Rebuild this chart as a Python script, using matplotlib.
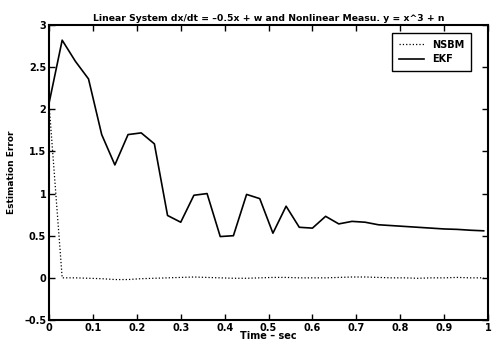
import numpy as np
import matplotlib
matplotlib.use("Agg")
import matplotlib.pyplot as plt

# time grid (sec)
t = [0.00, 0.03, 0.06, 0.09, 0.12, 0.15, 0.18, 0.21, 0.24, 0.27, 0.30,
     0.33, 0.36, 0.39, 0.42, 0.45, 0.48, 0.51, 0.54, 0.57, 0.60, 0.63,
     0.66, 0.69, 0.72, 0.75, 0.78, 0.81, 0.84, 0.87, 0.90, 0.93, 0.96, 0.99]

# estimation error, EKF
ekf = [2.07, 2.82, 2.57, 2.36, 1.70, 1.34, 1.70, 1.72, 1.59, 0.74, 0.66,
       0.98, 1.00, 0.49, 0.50, 0.99, 0.94, 0.53, 0.85, 0.60, 0.59, 0.73,
       0.64, 0.67, 0.66, 0.63, 0.62, 0.61, 0.60, 0.59, 0.58, 0.575, 0.565, 0.558]

# estimation error, NSBM
nsbm = [2.07, 0.00, 0.00, -0.005, -0.01, -0.02, -0.02, -0.01, -0.005, 0.0, 0.005,
        0.01, 0.005, 0.0, -0.005, -0.005, 0.0, 0.005, 0.005, 0.0, 0.0, 0.0,
        0.005, 0.01, 0.01, 0.005, 0.0, 0.0, -0.005, 0.0, 0.0, 0.005, 0.0, 0.0]

plt.rcParams['font.family'] = ['DejaVu Sans']
plt.rcParams['font.weight'] = 'bold'
plt.rcParams['font.size'] = 7

fig = plt.figure(figsize=(4.93, 3.45), dpi=100)
ax = fig.add_axes([0.0994, 0.0725, 0.8906, 0.855])

ax.plot(t, nsbm, color='black', linestyle=':', linewidth=0.9, label='NSBM')
ax.plot(t, ekf, color='black', linestyle='-', linewidth=1.2, label='EKF')

ax.set_xlim(0, 1)
ax.set_ylim(-0.5, 3)
ax.set_xticks(np.arange(0, 1.01, 0.1))
ax.set_xticklabels(['0', '0.1', '0.2', '0.3', '0.4', '0.5', '0.6', '0.7', '0.8', '0.9', '1'])
ax.set_yticks(np.arange(-0.5, 3.01, 0.5))
ax.set_yticklabels(['\u20130.5', '0', '0.5', '1', '1.5', '2', '2.5', '3'])
ax.tick_params(direction='in', length=4, width=1, top=True, right=True, pad=2)
for s in ax.spines.values():
    s.set_linewidth(1.5)

ax.set_title('Linear System dx/dt = \u20130.5x + w and Nonlinear Measu. y = x^3 + n',
             fontsize=6.7, fontweight='bold', pad=3)
ax.set_xlabel('Time \u2013 sec', fontsize=7, fontweight='bold', labelpad=-1)
ax.set_ylabel('Estimation Error', fontsize=6.5, fontweight='bold', labelpad=6)

leg = ax.legend(loc='upper right', bbox_to_anchor=(0.972, 0.99), fancybox=False,
                edgecolor='black', framealpha=1, handlelength=2.6, borderpad=0.7,
                labelspacing=0.45)
leg.get_frame().set_linewidth(1.0)

fig.savefig('out.png', dpi=100)
